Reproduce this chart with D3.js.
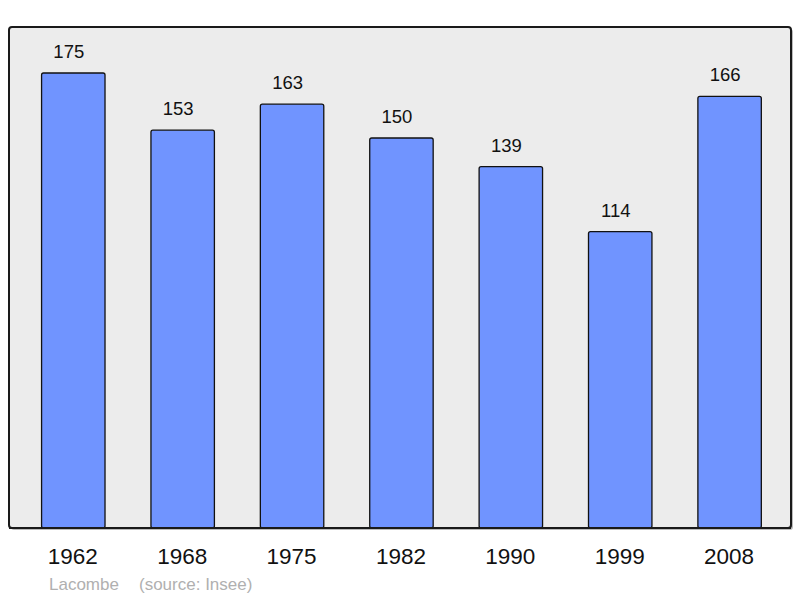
<!DOCTYPE html>
<html>
<head>
<meta charset="utf-8">
<script src="https://cdn.jsdelivr.net/npm/d3@7"></script>
<style>
  body { margin: 0; background: #fff; }
  text { font-family: "Liberation Sans", Arial, sans-serif; }
</style>
</head>
<body>
<svg id="chart" width="800" height="598"></svg>
<script>
const years = ["1962", "1968", "1975", "1982", "1990", "1999", "2008"];
const population = [175, 153, 163, 150, 139, 114, 166];
const commune = "Lacombe";
const source = "(source: Insee)";

const svg = d3.select("#chart");

// panel bounds
const panelLeft = 9, panelRight = 791, panelTop = 27, panelBottom = 528;

// shadow + panel
svg.append("rect")
    .attr("x", panelLeft + 2).attr("y", panelTop + 2)
    .attr("width", panelRight - panelLeft).attr("height", panelBottom - panelTop)
    .attr("rx", 3)
    .attr("fill", "#bbb");
svg.append("rect")
    .attr("x", panelLeft).attr("y", panelTop)
    .attr("width", panelRight - panelLeft).attr("height", panelBottom - panelTop)
    .attr("rx", 3)
    .attr("fill", "#ececec")
    .attr("stroke", "#1a1a1a")
    .attr("stroke-width", 2);

const x = d3.scaleBand()
    .domain(years)
    .range([18.6, 784.3])
    .paddingInner(0.42)
    .paddingOuter(0.21);

const y = d3.scaleLinear()
    .domain([0, d3.max(population) * 1.1])
    .range([panelBottom, panelTop + 0.5]);

const data = years.map((yr, i) => ({year: yr, value: population[i]}));

// bars
svg.append("g")
    .selectAll("rect")
    .data(data)
    .enter()
    .append("rect")
    .attr("x", d => x(d.year))
    .attr("y", d => y(d.value))
    .attr("width", x.bandwidth())
    .attr("height", d => panelBottom - y(d.value))
    .attr("rx", 2)
    .attr("fill", "#7094ff")
    .attr("stroke", "#111")
    .attr("stroke-width", 1.3);

// redraw bottom border over bars
svg.append("line")
    .attr("x1", panelLeft).attr("x2", panelRight)
    .attr("y1", panelBottom).attr("y2", panelBottom)
    .attr("stroke", "#1a1a1a")
    .attr("stroke-width", 2);

// value labels
svg.append("g")
    .selectAll("text")
    .data(data)
    .enter()
    .append("text")
    .attr("x", d => x(d.year) + x.bandwidth() / 2 - 4.5)
    .attr("y", d => y(d.value) - 15)
    .attr("text-anchor", "middle")
    .attr("font-size", 18.5)
    .attr("fill", "#111")
    .text(d => d.value);

// year labels
svg.append("g")
    .selectAll("text")
    .data(data)
    .enter()
    .append("text")
    .attr("x", d => x(d.year) + x.bandwidth() / 2 - 0.5)
    .attr("y", 564)
    .attr("text-anchor", "middle")
    .attr("font-size", 22.5)
    .attr("fill", "#111")
    .text(d => d.year);

// footer
svg.append("text")
    .attr("x", 49).attr("y", 590)
    .attr("font-size", 17)
    .attr("fill", "#b0b0b0")
    .text(commune);
svg.append("text")
    .attr("x", 139).attr("y", 590)
    .attr("font-size", 17)
    .attr("fill", "#b0b0b0")
    .text(source);
</script>
</body>
</html>
